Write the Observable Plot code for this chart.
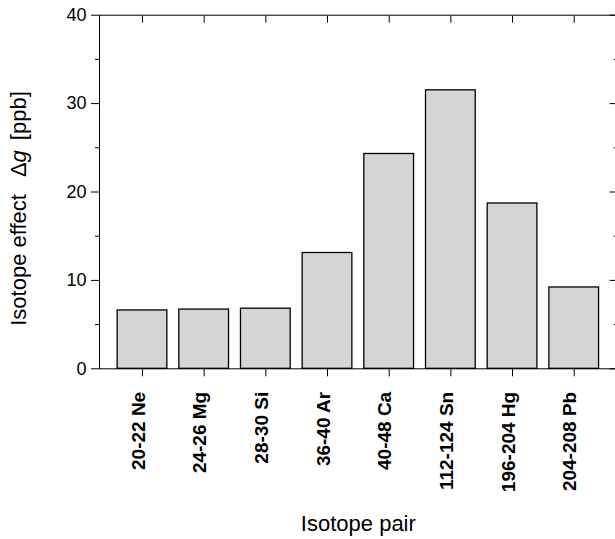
<!DOCTYPE html>
<html><head><meta charset="utf-8">
<script src="https://cdn.jsdelivr.net/npm/d3@7"></script>
<script src="https://cdn.jsdelivr.net/npm/@observablehq/plot@0.6"></script>
<style>
html,body{margin:0;padding:0;background:#fff;overflow:hidden;}
#wrap{width:615px;height:539px;overflow:hidden;position:relative;}
</style></head><body><div id="wrap"></div>
<script>
const pairs = ["20-22 Ne","24-26 Mg","28-30 Si","36-40 Ar","40-48 Ca","112-124 Sn","196-204 Hg","204-208 Pb"];
const values = [6.6, 6.7, 6.8, 13.1, 24.3, 31.5, 18.7, 9.2];
const majorTicks = [0, 10, 20, 30, 40];
const minorTicks = [5, 15, 25, 35];
const xLabel = "Isotope pair";

const data = pairs.map((p, i) => ({pair: p, value: values[i]}));
const font = "'Liberation Sans', Arial, Helvetica, sans-serif";
const blank = () => "";

const chart = Plot.plot({
  width: 620, height: 539,
  marginLeft: 99, marginRight: 3.3, marginTop: 14.7, marginBottom: 170.7,
  style: {fontFamily: font, color: "black", background: "white", maxWidth: "none", overflow: "visible"},
  x: {domain: pairs, paddingInner: 0.194, paddingOuter: 0.294, round: false},
  y: {domain: [0, 40]},
  marks: [
    Plot.barY(data, {x: "pair", y: "value", fill: "#d5d5d5", stroke: "black", strokeWidth: 1.3}),
    Plot.frame({stroke: "black", strokeWidth: 1}),
    Plot.axisY({ticks: majorTicks, tickSize: 8, tickFormat: blank, label: null}),
    Plot.axisY({ticks: minorTicks, tickSize: 4, tickFormat: blank, label: null}),
    Plot.axisY({anchor: "right", ticks: majorTicks, tickSize: 8, dx: -8, tickFormat: blank, label: null}),
    Plot.axisY({anchor: "right", ticks: minorTicks, tickSize: 4, dx: -4, tickFormat: blank, label: null}),
    Plot.axisX({anchor: "bottom", tickSize: 8, tickFormat: blank, label: null}),
    Plot.axisX({anchor: "top", tickSize: 7, dy: 7, tickFormat: blank, label: null}),
    Plot.text(majorTicks, {y: d => d, text: d => String(d), frameAnchor: "left", textAnchor: "end", dx: -13, fontSize: 18, lineAnchor: "middle"}),
    Plot.text(pairs, {x: d => d, text: d => d, frameAnchor: "bottom", rotate: -90, textAnchor: "end", lineAnchor: "middle", dy: 23, dx: -4, fontSize: 19, fontWeight: "bold"}),
    Plot.text([xLabel], {text: d => d, frameAnchor: "bottom", dy: 162.4, fontSize: 22, lineAnchor: "bottom"})
  ]
});

const svg = d3.select(chart);
const t = svg.append("text")
  .attr("transform", "translate(25.5,208.5) rotate(-90)")
  .attr("text-anchor", "middle")
  .attr("font-size", 22)
  .attr("font-family", font)
  .attr("fill", "black");
t.append("tspan").text("Isotope effect");
t.append("tspan").attr("dx", 17).text("Δ");
t.append("tspan").attr("font-style", "italic").text("g");
t.append("tspan").attr("dx", 10).text("[ppb]");

document.getElementById("wrap").appendChild(chart);
</script>
</body></html>
